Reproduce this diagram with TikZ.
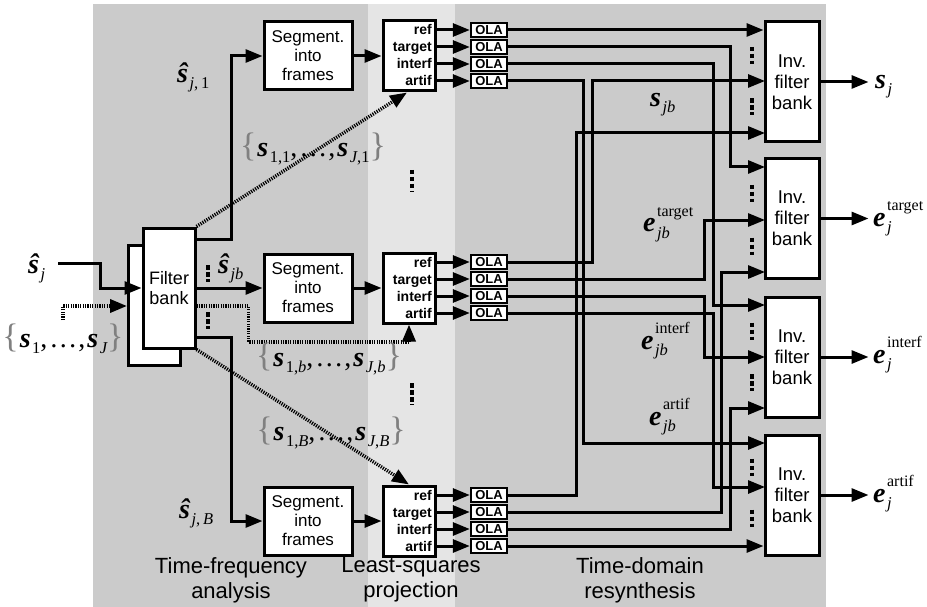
\documentclass[tikz,border=0pt]{standalone}
\usepackage{fontspec}
\setmainfont{Liberation Sans}
\newfontfamily\serf{Liberation Serif}
\usetikzlibrary{arrows.meta}
\definecolor{bgdark}{RGB}{203,203,203}
\definecolor{bglight}{RGB}{229,229,229}
\newcommand\bigf{\fontsize{28}{28}\selectfont}
\newcommand\subf{\fontsize{16.5}{16.5}\selectfont\serf\itshape}
\newcommand\supf{\fontsize{16}{16}\selectfont\serf}
\newcommand\bsym[1]{{\bigf\serf\bfseries\itshape #1}}
\newcommand\msub[2]{\bsym{#1}\kern1.5pt\raisebox{-6pt}{\subf #2}}
\newcommand\msubsup[3]{\bsym{#1}\kern1.5pt\rlap{\raisebox{-6pt}{\subf #2}}\raisebox{16pt}{\supf #3}}
\newcommand\brc[1]{{\fontsize{34}{34}\selectfont\serf\color{black!50}#1}}
\newcommand\sset[2]{\brc{\{}\kern1pt\msub{s}{#1}{\bigf\serf,\kern2pt…\kern1pt,\kern2pt}\msub{s}{#2}\kern0pt\brc{\}}}
\begin{document}
\begin{tikzpicture}[x=1pt,y=-1pt,
  box/.style={draw,line width=3pt,fill=white,inner sep=0pt,align=center},
  fbbox/.style={box,minimum width=52pt,minimum height=120pt,font=\fontsize{18}{20}\selectfont},
  segbox/.style={box,minimum width=88pt,minimum height=68pt,font=\fontsize{17}{19}\selectfont},
  projbox/.style={box,minimum width=52pt,minimum height=70pt},
  olabox/.style={box,line width=2.4pt,minimum width=36pt,minimum height=14pt,font=\fontsize{13}{13}\selectfont\bfseries},
  ifbbox/.style={box,minimum width=54pt,minimum height=120pt,font=\fontsize{18.5}{21}\selectfont},
  rowlab/.style={anchor=base east,inner sep=0pt,font=\fontsize{14}{14}\selectfont\bfseries},
  arr/.style={line width=3pt,-{Triangle[length=17pt,width=13pt]}},
  dotarr/.style={line width=3.5pt,dash pattern=on 1.2pt off 1.2pt,-{Triangle[length=17pt,width=13pt]}},
  vdotsty/.style={line width=4.5pt,dash pattern=on 4.5pt off 2.5pt},
  mlab/.style={anchor=base west,inner sep=0pt},
  seclab/.style={align=center,inner sep=0pt,font=\fontsize{22}{25}\selectfont}]
\useasboundingbox (0,0) rectangle (927,607);
% panels
\fill[bgdark] (93,4) rectangle (368,607);
\fill[bglight] (368,4) rectangle (455,607);
\fill[bgdark] (455,4) rectangle (826,607);
% section labels
\node[seclab] (sec1) at (231,580) {Time-frequency\\analysis};
\node[seclab] (sec2) at (411,580) {Least-squares\\projection};
\node[seclab] (sec3) at (640,580) {Time-domain\\resynthesis};
% filter bank
\node[fbbox] (fbb) at (154.5,305) {};
\node[fbbox] (fbf) at (169,288) {Filter\\bank};
% bands
\foreach \g/\c in {1/56,2/288,3/521}{
  \node[segbox] (seg\g) at (308,\c) {Segment.\\into\\frames};
  \node[projbox] (proj\g) at (409,\c) {};
  \foreach \r/\o/\t in {1/-26/ref,2/-9/target,3/8/interf,4/25/artif}{
    \pgfmathsetmacro\yy{\c+\o}
    \node[olabox] (ola\g\r) at (489,\yy) {OLA};
    \node[rowlab] (lab\g\r) at (432,\yy+5) {\t};
  }
}
\foreach \g in {1,2,3}{
  \draw[arr] (seg\g.east) -- (proj\g.west);
  \foreach \r in {1,2,3,4}{
    \draw[arr] (proj\g.east |- ola\g\r.west) -- (ola\g\r.west);
  }
}
% inverse filter banks
\node[ifbbox] (ifb1) at (792,82) {Inv.\\filter\\bank};
\node[ifbbox] (ifb2) at (792,218.5) {Inv.\\filter\\bank};
\node[ifbbox] (ifb3) at (792,357) {Inv.\\filter\\bank};
\node[ifbbox] (ifb4) at (792,495) {Inv.\\filter\\bank};
\coordinate (i11) at (ifb1.west |- ola11.east);
\coordinate (i12) at (765,81);
\coordinate (i13) at (765,133);
\coordinate (i21) at (765,167);
\coordinate (i22) at (765,220);
\coordinate (i23) at (765,272);
\coordinate (i31) at (765,305);
\coordinate (i32) at (765,357);
\coordinate (i33) at (765,408);
\coordinate (i41) at (765,443);
\coordinate (i42) at (765,487);
\coordinate (i43) at (ifb4.west |- ola34.east);
\coordinate (t576) at (576,0);
\coordinate (t583) at (583,0);
\coordinate (t592) at (592,0);
\coordinate (t704) at (704,0);
\coordinate (t713) at (713,0);
\coordinate (t721) at (721,0);
\coordinate (t730) at (730,0);
% routing
\draw[arr] (ola11.east) -- (i11);
\draw[arr] (ola12.east) -| (t730 |- i21) -- (i21);
\draw[arr] (ola13.east) -| (t713 |- i31) -- (i31);
\draw[arr] (ola14.east) -| (t583 |- i41) -- (i41);
\draw[arr] (ola21.east) -| (t592 |- i12) -- (i12);
\draw[arr] (ola22.east) -| (t704 |- i22) -- (i22);
\draw[arr] (ola23.east) -| (t704 |- i32) -- (i32);
\draw[arr] (ola24.east) -| (t713 |- i42) -- (i42);
\draw[arr] (ola31.east) -| (t576 |- i13) -- (i13);
\draw[arr] (ola32.east) -| (t721 |- i23) -- (i23);
\draw[arr] (ola33.east) -| (t730 |- i33) -- (i33);
\draw[arr] (ola34.east) -- (i43);
% outputs
\draw[arr] (ifb1.east) -- ++(48,0) coordinate (o1);
\draw[arr] (ifb2.east) -- ++(48,0) coordinate (o2);
\draw[arr] (ifb3.east) -- ++(48,0) coordinate (o3);
\draw[arr] (ifb4.east) -- ++(48,0) coordinate (o4);
\node[mlab] (osj) at (875,89) {\msub{s}{j}};
\node[mlab] (otg) at (873,226) {\msubsup{e}{j}{target}};
\node[mlab] (oif) at (873,363) {\msubsup{e}{j}{interf}};
\node[mlab] (oar) at (873,502) {\msubsup{e}{j}{artif}};
% middle labels
\node[mlab] (lsjb) at (650,107) {\msub{s}{jb}};
\node[mlab] (ltg) at (643,232) {\msubsup{e}{jb}{target}};
\node[mlab] (lif) at (641,349) {\msubsup{e}{jb}{interf}};
\node[mlab] (lar) at (649,425) {\msubsup{e}{jb}{artif}};
% inputs
\node[mlab] (lsh) at (28,273) {\msub{ŝ}{j}};
\coordinate (in1) at (58,263);
\coordinate (in2) at (63,320);
\draw[arr] (in1) -- ++(42,0) |- (fbf.west);
\draw[dotarr] (in2) |- ([yshift=-1pt]fbb.west);
\node (set0) at (63,339) {\sset{\upshape 1}{J}};
% filter bank outputs
\draw[arr] ([yshift=-13pt]fbf.north east) -- ++(35,0) |- (seg1.west);
\draw[arr] (fbf.east) -- (seg2.west);
\draw[arr] ([yshift=12pt]fbf.south east) -- ++(35,0) |- (seg3.west);
\node[mlab] (lsh1) at (177,83) {\msub{ŝ}{j{\upshape ,\,1}}};
\node[mlab] (lshb) at (218,273) {\msub{ŝ}{jb}};
\node[mlab] (lshB) at (179,518) {\msub{ŝ}{j{\upshape ,\,}B}};
% reference signals
\draw[dotarr] (fbf.north east) -- ([xshift=-2pt]proj1.south);
\draw[dotarr] ([yshift=-18pt]fbf.east) -- ++(52,0) -- ++(0,36) -| (proj2.south);
\draw[dotarr] (fbf.south east) -- (proj3.north);
\node (set1) at (313,149) {\sset{\upshape 1,1}{J{\upshape ,1}}};
\node (setb) at (329,359) {\sset{{\upshape 1,}b}{J{\upshape ,}b}};
\node (setB) at (331,433) {\sset{{\upshape 1,}B}{J{\upshape ,}B}};
% vertical dots
\draw[vdotsty] (208,265) -- (208,282);
\draw[vdotsty] (208,312) -- (208,329);
\draw[vdotsty] (412,170) -- (412,192);
\draw[vdotsty] (412,383) -- (412,405);
\foreach \c in {55.5,107,193.5,246,331,382.5,467,518}{
  \draw[vdotsty] (752,\c-8.5) -- (752,\c+8.5);
}
\end{tikzpicture}
\end{document}
